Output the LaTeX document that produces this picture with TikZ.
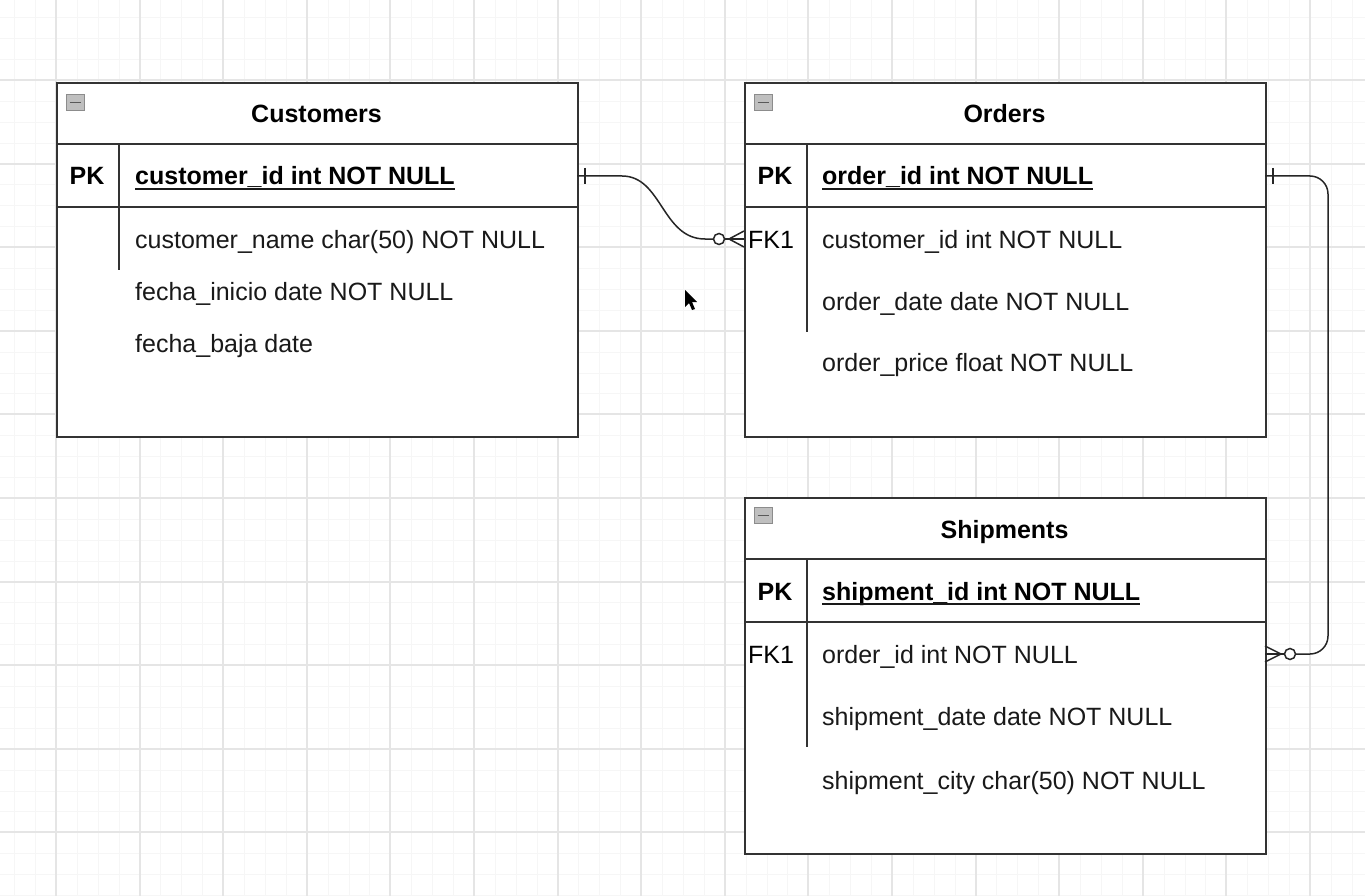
\documentclass[tikz,border=0pt]{standalone}
\usepackage{fontspec}
\setmainfont{Liberation Sans}
\tikzset{
  tbl/.style={draw=black!80, line width=1.6pt, fill=white, anchor=north west, inner sep=0pt},
  sep/.style={draw=black!80, line width=1.5pt},
  ttl/.style={font=\fontsize{25}{30}\selectfont\bfseries, anchor=base, inner sep=0pt},
  fld/.style={font=\fontsize{25}{30}\selectfont, anchor=base west, inner sep=0pt, text=black!90},
  key/.style={font=\fontsize{25}{30}\selectfont\bfseries, anchor=base, inner sep=0pt},
  fkey/.style={font=\fontsize{25}{30}\selectfont, anchor=base, inner sep=0pt},
  pkfld/.style={font=\fontsize{25}{30}\selectfont\bfseries, anchor=base west, inner sep=0pt},
  icon/.style={draw=black!45, fill=black!25, line width=0.8pt, minimum width=18pt, minimum height=16pt, anchor=north west, inner sep=0pt},
  conn/.style={draw=black!85, line width=1.5pt},
  gridmaj/.style={draw=black!10, line width=1.2pt},
  gridmin/.style={draw=black!3.5, line width=0.8pt},
}
\begin{document}
\begin{tikzpicture}[x=1pt,y=-1pt]
\useasboundingbox (0,0) rectangle (1365,896);
\fill[white] (0,0) rectangle (1365,896);
% grid
\foreach \i in {-4,...,66} {
  \pgfmathsetmacro{\gx}{round(56+20.9*\i)}
  \draw[gridmin] (\gx,0) -- (\gx,896);
}
\foreach \i in {-4,...,43} {
  \pgfmathsetmacro{\gy}{round(80+20.9*\i)}
  \draw[gridmin] (0,\gy) -- (1365,\gy);
}
\foreach \i in {-1,...,16} {
  \pgfmathsetmacro{\gx}{round(56+83.6*\i)}
  \draw[gridmaj] (\gx,0) -- (\gx,896);
}
\foreach \i in {-1,...,10} {
  \pgfmathsetmacro{\gy}{round(80+83.6*\i)}
  \draw[gridmaj] (0,\gy) -- (1365,\gy);
}

% ---------- Customers ----------
\node[tbl, minimum width=521pt, minimum height=354pt] (cust) at (56,82) {};
\node[icon] (custicon) at (66,94) {};
\draw[black!65, line width=1.4pt] ([xshift=3.5pt]custicon.west) -- ([xshift=-3.5pt]custicon.east);
\node[ttl] (custtitle) at (316.5,123) {Customers};
\draw[sep] (56,144) -- (577,144);
\draw[sep] (56,207) -- (577,207);
\draw[sep] (119,144) -- (119,270);
\node[key] (custpk) at (87,185) {PK};
\node[pkfld] (custid) at (135,185) {customer\_id int NOT NULL};
\draw[black!90, line width=1.2pt] ([yshift=-4pt]custid.base west) -- ([yshift=-4pt]custid.base east);
\node[fld] (custname) at (135,248) {customer\_name char(50) NOT NULL};
\node[fld] (custini) at (135,300) {fecha\_inicio date NOT NULL};
\node[fld] (custbaja) at (135,352) {fecha\_baja date};

% ---------- Orders ----------
\node[tbl, minimum width=521pt, minimum height=354pt] (ord) at (744,82) {};
\node[icon] (ordicon) at (754,94) {};
\draw[black!65, line width=1.4pt] ([xshift=3.5pt]ordicon.west) -- ([xshift=-3.5pt]ordicon.east);
\node[ttl] (ordtitle) at (1004.5,123) {Orders};
\draw[sep] (744,144) -- (1265,144);
\draw[sep] (744,207) -- (1265,207);
\draw[sep] (807,144) -- (807,332);
\node[key] (ordpk) at (775,185) {PK};
\node[pkfld] (ordid) at (822,185) {order\_id int NOT NULL};
\draw[black!90, line width=1.2pt] ([yshift=-4pt]ordid.base west) -- ([yshift=-4pt]ordid.base east);
\node[fkey] (ordfk) at (771,248) {FK1};
\node[fld] (ordcust) at (822,248) {customer\_id int NOT NULL};
\node[fld] (orddate) at (822,310) {order\_date date NOT NULL};
\node[fld] (ordprice) at (822,371) {order\_price float NOT NULL};

% ---------- Shipments ----------
\node[tbl, minimum width=521pt, minimum height=356pt] (ship) at (744,497) {};
\node[icon] (shipicon) at (754,507) {};
\draw[black!65, line width=1.4pt] ([xshift=3.5pt]shipicon.west) -- ([xshift=-3.5pt]shipicon.east);
\node[ttl] (shiptitle) at (1004.5,538) {Shipments};
\draw[sep] (744,559) -- (1265,559);
\draw[sep] (744,622) -- (1265,622);
\draw[sep] (807,559) -- (807,747);
\node[key] (shippk) at (775,600) {PK};
\node[pkfld] (shipid) at (822,600) {shipment\_id int NOT NULL};
\draw[black!90, line width=1.2pt] ([yshift=-4pt]shipid.base west) -- ([yshift=-4pt]shipid.base east);
\node[fkey] (shipfk) at (771,663) {FK1};
\node[fld] (shipord) at (822,663) {order\_id int NOT NULL};
\node[fld] (shipdate) at (822,725) {shipment\_date date NOT NULL};
\node[fld] (shipcity) at (822,789) {shipment\_city char(50) NOT NULL};

% ---------- connector Customers -> Orders ----------
\coordinate (c1a) at (577,176);
\coordinate (c1b) at (744,239);
\coordinate (c1o) at (719,239);
\draw[conn] (c1a) -- (622,176) .. controls (662,176) and (662,239) .. (705,239) -- (714,239);
\draw[conn] (585,168) -- (585,184);
\node[draw=black!85, line width=1.5pt, circle, minimum size=11pt, inner sep=0pt, fill=white] (c1circ) at (c1o) {};
\draw[conn] (c1circ.east) -- (c1b);
\draw[conn] (729,239) -- (744,231);
\draw[conn] (729,239) -- (744,247);

% ---------- connector Orders -> Shipments ----------
\coordinate (c2a) at (1265,176);
\coordinate (c2b) at (1265,654);
\coordinate (c2o) at (1290,654);
\draw[conn, rounded corners=18pt] (c2a) -- (1328,176) -- (1328,654) -- (1295,654);
\draw[conn] (1273,168) -- (1273,184);
\node[draw=black!85, line width=1.5pt, circle, minimum size=11pt, inner sep=0pt, fill=white] (c2circ) at (c2o) {};
\draw[conn] (c2circ.west) -- (c2b);
\draw[conn] (1281,654) -- (1265,646);
\draw[conn] (1281,654) -- (1265,662);

% ---------- mouse cursor ----------
\fill[black] (685,290) -- (685,307) -- (689,303) -- (692,310) -- (695,309) -- (692,302) -- (697,302) -- cycle;
\end{tikzpicture}
\end{document}
